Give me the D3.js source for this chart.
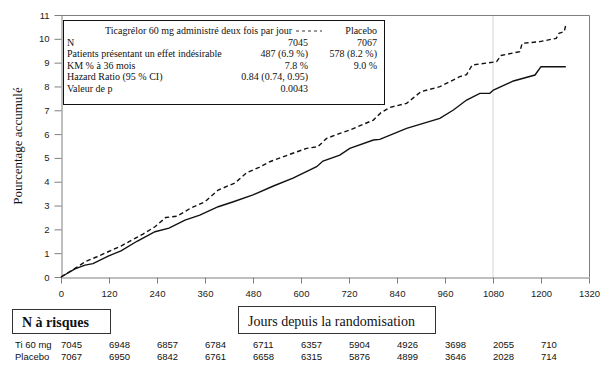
<!DOCTYPE html>
<html>
<head>
<meta charset="utf-8">
<script src="https://cdn.jsdelivr.net/npm/d3@7"></script>
<style>
  body { margin: 0; background: #fff; }
  svg { display: block; }
</style>
</head>
<body>
<svg id="chart" width="605" height="372"></svg>
<script>
// upper curve (dashed) and lower curve (solid): [day, cumulative %]
const dashedSeries = [
  [0, 0], [35, 0.36], [60, 0.64], [90, 0.85], [118, 1.06], [150, 1.3], [177, 1.55],
  [205, 1.8], [235, 2.11], [262, 2.5], [290, 2.55], [325, 2.9], [360, 3.16],
  [393, 3.65], [435, 3.95], [464, 4.38], [495, 4.6], [522, 4.84], [567, 5.12],
  [614, 5.4], [642, 5.47], [664, 5.82], [697, 6.03], [722, 6.17], [781, 6.59],
  [800, 6.9], [822, 7.12], [864, 7.29], [900, 7.78], [947, 7.99], [997, 8.41],
  [1014, 8.5], [1028, 8.9], [1089, 9.04], [1100, 9.3], [1147, 9.46], [1153, 9.81],
  [1197, 9.88], [1238, 10.02], [1245, 10.23], [1258, 10.3], [1262, 10.58]
];
const solidSeries = [
  [0, 0], [35, 0.34], [60, 0.5], [80, 0.56], [118, 0.88], [150, 1.1], [190, 1.5],
  [235, 1.9], [270, 2.05], [310, 2.39], [347, 2.6], [393, 2.95], [431, 3.16],
  [480, 3.45], [531, 3.82], [580, 4.15], [639, 4.63], [655, 4.87], [697, 5.12],
  [722, 5.4], [781, 5.75], [797, 5.78], [864, 6.24], [947, 6.66], [981, 7.01],
  [1014, 7.43], [1047, 7.71], [1072, 7.71], [1081, 7.85], [1131, 8.23],
  [1185, 8.48], [1200, 8.83], [1262, 8.83]
];

const xTicks = [0, 120, 240, 360, 480, 600, 720, 840, 960, 1080, 1200, 1320];
const yTicks = [0, 1, 2, 3, 4, 5, 6, 7, 8, 9, 10, 11];
const refDay = 1080;

const legendHeader = ['Ticagrélor 60 mg administré deux fois par jour', 'Placebo'];
const legendLabels = ['N', 'Patients présentant un effet indésirable', 'KM % à 36 mois', 'Hazard Ratio (95 % CI)', 'Valeur de p'];
const legendCol1 = ['7045', '487 (6.9 %)', '7.8 %', '0.84 (0.74, 0.95)', '0.0043'];
const legendCol2 = ['7067', '578 (8.2 %)', '9.0 %', '', ''];

const riskDays = [0, 120, 240, 360, 480, 600, 720, 840, 960, 1080, 1200];
const riskLabels = ['Ti 60 mg', 'Placebo'];
const riskTi = [7045, 6948, 6857, 6784, 6711, 6357, 5904, 4926, 3698, 2055, 710];
const riskPlacebo = [7067, 6950, 6842, 6761, 6658, 6315, 5876, 4899, 3646, 2028, 714];

const SERIF = '"Liberation Serif", "Times New Roman", serif';
const SANS = '"Liberation Sans", Arial, sans-serif';

const svg = d3.select('#chart');
const m = { left: 61, right: 589, top: 15, bottom: 277 };
const axisColor = '#7f7f7f';

const x = d3.scaleLinear().domain([0, 1320]).range([m.left, m.right]);
const y = d3.scaleLinear().domain([0, 11]).range([m.bottom, m.top]);

// reference line at 36 months
svg.append('line')
  .attr('x1', x(refDay)).attr('x2', x(refDay))
  .attr('y1', y(11)).attr('y2', y(0))
  .attr('stroke', '#e3e3e3').attr('stroke-width', 1.5);

// frame top / right
svg.append('path')
  .attr('d', `M${m.left},${m.top + 0.5}H${m.right + 0.5}V${m.bottom}`)
  .attr('fill', 'none').attr('stroke', axisColor).attr('stroke-width', 1);

const xAxis = svg.append('g')
  .attr('transform', `translate(0,${m.bottom + 0.5})`)
  .call(d3.axisBottom(x).tickValues(xTicks).tickFormat(d3.format('d'))
    .tickSize(6).tickSizeOuter(0).tickPadding(7));
const yAxis = svg.append('g')
  .attr('transform', `translate(${m.left + 0.5},0)`)
  .call(d3.axisLeft(y).tickValues(yTicks).tickSize(7).tickSizeOuter(0).tickPadding(5));

[xAxis, yAxis].forEach(g => {
  g.attr('font-family', SANS).attr('font-size', 9.5);
  g.selectAll('path, line').attr('stroke', axisColor);
  g.selectAll('text').attr('fill', '#222');
});

// curves
const line = d3.line()
  .x(d => x(d[0]))
  .y(d => y(d[1]));

svg.append('path')
  .datum(dashedSeries)
  .attr('d', line)
  .attr('fill', 'none').attr('stroke', '#111').attr('stroke-width', 1.4)
  .attr('stroke-dasharray', '4.5,3');
svg.append('path')
  .datum(solidSeries)
  .attr('d', line)
  .attr('fill', 'none').attr('stroke', '#111').attr('stroke-width', 1.4);

// legend box
const lg = svg.append('g').attr('font-family', SERIF).attr('font-size', 10).attr('fill', '#111');
lg.append('rect')
  .attr('x', 63.5).attr('y', 20.5).attr('width', 321).attr('height', 84)
  .attr('fill', '#fff').attr('stroke', '#111').attr('stroke-width', 1);
lg.append('text').attr('x', 105).attr('y', 34).text(legendHeader[0]);
lg.append('line')
  .attr('x1', 296).attr('x2', 322).attr('y1', 31).attr('y2', 31)
  .attr('stroke', '#333').attr('stroke-dasharray', '3,3');
lg.append('text').attr('x', 377).attr('y', 34).attr('text-anchor', 'end').text(legendHeader[1]);
const rowY = i => 45.5 + i * 11.5;
legendLabels.forEach((t, i) => {
  lg.append('text').attr('x', 67).attr('y', rowY(i)).text(t);
  lg.append('text').attr('x', 308).attr('y', rowY(i)).attr('text-anchor', 'end').text(legendCol1[i]);
  if (legendCol2[i]) {
    lg.append('text').attr('x', 377).attr('y', rowY(i)).attr('text-anchor', 'end').text(legendCol2[i]);
  }
});

// y label
svg.append('text')
  .attr('font-family', SERIF).attr('font-size', 13).attr('fill', '#111')
  .attr('transform', `translate(22,${(m.top + m.bottom) / 2}) rotate(-90)`)
  .attr('text-anchor', 'middle')
  .text('Pourcentage accumulé');

// boxes under the axis
svg.append('rect').attr('x', 12.5).attr('y', 309.5).attr('width', 98).attr('height', 24)
  .attr('fill', 'none').attr('stroke', '#333');
svg.append('text').attr('font-family', SERIF).attr('font-size', 14).attr('font-weight', 'bold')
  .attr('x', 22).attr('y', 327).attr('fill', '#111').text('N à risques');

svg.append('rect').attr('x', 238.5).attr('y', 306.5).attr('width', 197).attr('height', 27)
  .attr('fill', 'none').attr('stroke', '#333');
svg.append('text').attr('font-family', SERIF).attr('font-size', 14)
  .attr('x', 331.5).attr('y', 325.5).attr('text-anchor', 'middle').attr('fill', '#111')
  .text('Jours depuis la randomisation');

// number at risk table
const risk = svg.append('g').attr('font-family', SANS).attr('font-size', 9.5).attr('fill', '#111');
[riskTi, riskPlacebo].forEach((row, r) => {
  const yy = 348 + r * 12;
  risk.append('text').attr('x', 15).attr('y', yy).text(riskLabels[r]);
  row.forEach((v, i) => {
    risk.append('text').attr('x', x(riskDays[i])).attr('y', yy).text(v);
  });
});
</script>
</body>
</html>
